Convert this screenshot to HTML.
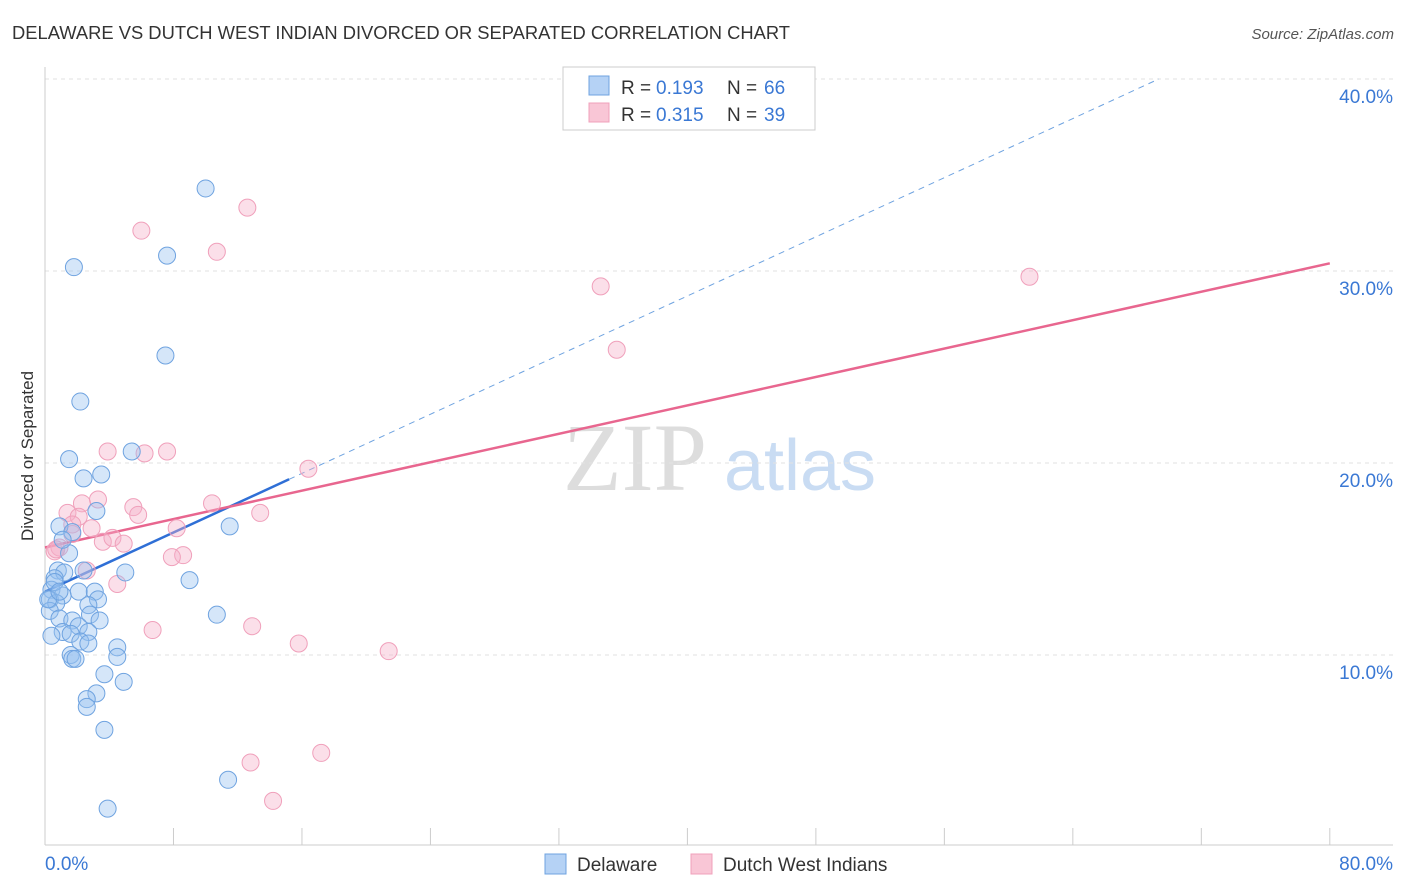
<!DOCTYPE html>
<html><head><meta charset="utf-8"><style>
body{margin:0;background:#fff;font-family:"Liberation Sans",sans-serif}
</style></head><body>
<svg id="chart" width="1406" height="892" xmlns="http://www.w3.org/2000/svg" style="display:block">
<text x="12" y="39" font-size="18" fill="#333" textLength="778" lengthAdjust="spacingAndGlyphs">DELAWARE VS DUTCH WEST INDIAN DIVORCED OR SEPARATED CORRELATION CHART</text>
<text x="1394" y="39" font-size="15" fill="#555" font-style="italic" text-anchor="end">Source: ZipAtlas.com</text>
<text transform="translate(33,456) rotate(-90)" font-size="17" fill="#333" text-anchor="middle">Divorced or Separated</text>
<g>
<text x="635" y="490" font-size="96" fill="#ddd" font-family="Liberation Serif,serif" text-anchor="middle">ZIP</text>
<text x="800" y="490" font-size="72" fill="#c9dcf3" text-anchor="middle">atlas</text>
</g>
<g id="grid"></g><g id="axes"></g><g id="lines"></g><g id="pts"></g>
<g>
<rect x="563" y="67" width="252" height="63" fill="#fff" stroke="#ccc"/>
<rect x="589" y="76" width="20" height="19" fill="#b5d2f5" stroke="#6fa3e0"/>
<rect x="589" y="103" width="20" height="19" fill="#f9c6d6" stroke="#f0a0bb"/>
<text x="621" y="94" font-size="19" fill="#333">R =</text>
<text x="656" y="94" font-size="19" fill="#3a78d4">0.193</text>
<text x="727" y="94" font-size="19" fill="#333">N =</text>
<text x="764" y="94" font-size="19" fill="#3a78d4">66</text>
<text x="621" y="121" font-size="19" fill="#333">R =</text>
<text x="656" y="121" font-size="19" fill="#3a78d4">0.315</text>
<text x="727" y="121" font-size="19" fill="#333">N =</text>
<text x="764" y="121" font-size="19" fill="#3a78d4">39</text>
</g>
<g>
<rect x="545" y="854" width="21" height="20" fill="#b5d2f5" stroke="#6fa3e0"/>
<text x="577" y="871" font-size="19" fill="#333">Delaware</text>
<rect x="691" y="854" width="21" height="20" fill="#f9c6d6" stroke="#f0a0bb"/>
<text x="723" y="871" font-size="19" fill="#333">Dutch West Indians</text>
</g>
</svg>
<script>
const blueX=[10.0,7.6,1.8,7.5,2.2,1.5,5.4,2.4,3.5,3.2,0.9,1.7,1.5,1.1,11.5,0.8,1.2,0.6,2.4,5.0,9.0,0.4,2.1,3.1,1.1,0.3,3.3,0.7,2.7,0.3,2.8,0.9,3.4,1.7,2.1,2.7,1.1,1.6,0.4,2.2,2.7,10.7,4.5,4.5,1.6,1.7,1.9,3.7,4.9,3.2,2.6,2.6,3.7,11.4,3.9,0.2,0.6,0.9];
const blueY=[34.3,30.8,30.2,25.6,23.2,20.2,20.6,19.2,19.4,17.5,16.7,16.4,15.3,16.0,16.7,14.4,14.3,14.0,14.4,14.3,13.9,13.4,13.3,13.3,13.1,12.9,12.9,12.7,12.6,12.3,12.1,11.9,11.8,11.8,11.5,11.2,11.2,11.1,11.0,10.7,10.6,12.1,10.4,9.9,10.0,9.8,9.8,9.0,8.6,8.0,7.7,7.3,6.1,3.5,2.0,12.9,13.8,13.3];
const pinkX=[12.6,6.0,10.7,61.3,34.6,35.6,3.9,6.2,7.6,16.4,3.3,2.3,10.4,1.4,5.5,5.8,13.4,2.1,2.9,8.2,1.7,3.6,4.2,4.9,0.9,0.6,8.6,7.9,2.6,4.5,6.7,12.9,15.8,21.4,12.8,17.2,14.2,1.7,0.7];
const pinkY=[33.3,32.1,31.0,29.7,29.2,25.9,20.6,20.5,20.6,19.7,18.1,17.9,17.9,17.4,17.7,17.3,17.4,17.2,16.6,16.6,16.3,15.9,16.1,15.8,15.6,15.4,15.2,15.1,14.4,13.7,11.3,11.5,10.6,10.2,4.4,4.9,2.4,16.8,15.5];
const yTicks=[10,20,30,40];
const yTickLabels=["10.0%","20.0%","30.0%","40.0%"];
const blueTrend=[13.3,0.385]; // intercept, slope
const pinkTrend=[15.6,0.185];
const NS="http://www.w3.org/2000/svg";
const sx=v=>45+v*16.06, sy=v=>847-v*19.2;
function mk(p,t,a){const e=document.createElementNS(NS,t);for(const k in a)e.setAttribute(k,a[k]);document.getElementById(p).appendChild(e);return e;}
yTicks.forEach((t,i)=>{
 const g=mk('grid','line',{x1:45,x2:1393,y1:sy(t),y2:sy(t),stroke:'#e2e2e2','stroke-dasharray':'4,4'});
 
 
 const l=mk('grid','text',{x:1393,y:sy(t)+24,'font-size':19,fill:'#3a78d4','text-anchor':'end'});
 l.textContent=yTickLabels[i];
 
 
});
const ax=mk('axes','line',{x1:45,x2:1393,y1:845,y2:845,stroke:'#ccc'});


const ay=mk('axes','line',{x1:45,x2:45,y1:67,y2:845,stroke:'#ccc'});


for(let i=0;i<=10;i++){const t=mk('axes','line',{x1:sx(i*8),x2:sx(i*8),y1:828,y2:845,stroke:'#ccc'});
 
 }
[["0.0%",45,"start"],["80.0%",1393,"end"]].forEach(d=>{const t=mk('axes','text',{x:d[1],y:870,'font-size':19,fill:'#3a78d4','text-anchor':d[2]});t.textContent=d[0];
 
 });
const bl=mk('lines','line',{x1:sx(0),y1:sy(blueTrend[0]),x2:sx(15.2),y2:sy(blueTrend[0]+blueTrend[1]*15.2),stroke:'#2f6fd6','stroke-width':2.5});


const xe=(40-blueTrend[0])/blueTrend[1];
const bd=mk('lines','line',{x1:sx(15.2),y1:sy(blueTrend[0]+blueTrend[1]*15.2),x2:sx(xe),y2:sy(40),stroke:'#6fa3e0','stroke-width':1,'stroke-dasharray':'6,5'});


const pl=mk('lines','line',{x1:sx(0),y1:sy(pinkTrend[0]),x2:sx(80),y2:sy(pinkTrend[0]+pinkTrend[1]*80),stroke:'#e8668f','stroke-width':2.5});


pinkX.forEach((x,i)=>{const c=mk('pts','circle',{cx:sx(x),cy:sy(pinkY[i]),r:8.5,fill:'rgba(246,175,200,0.4)',stroke:'#f0a0bb','stroke-width':1});
 
 });
blueX.forEach((x,i)=>{const c=mk('pts','circle',{cx:sx(x),cy:sy(blueY[i]),r:8.5,fill:'rgba(150,192,240,0.4)',stroke:'#6fa3e0','stroke-width':1});
 
 });
</script>
</body></html>
